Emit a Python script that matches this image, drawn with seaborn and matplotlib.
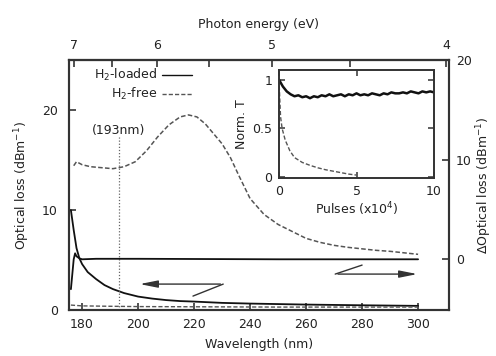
import numpy as np
import pandas as pd
import matplotlib
matplotlib.use("Agg")
import matplotlib.pyplot as plt
import seaborn as sns

# ---------------- data ----------------
# Main panel: optical loss (left axis) of H2-loaded (solid) and H2-free (dashed) fibres
wl_loaded = [176, 177, 178, 179, 180, 182, 185, 188, 191, 195, 200, 205, 210, 215, 220,
             230, 240, 260, 280, 300]
loss_loaded = [10.0, 8.0, 6.2, 5.2, 4.6, 3.8, 3.1, 2.5, 2.1, 1.7, 1.35, 1.15, 1.0, 0.9, 0.85,
               0.72, 0.65, 0.55, 0.48, 0.42]

wl_free_loss = [176, 180, 190, 200, 220, 250, 280, 300]
loss_free = [0.5, 0.42, 0.38, 0.35, 0.33, 0.3, 0.3, 0.3]

# Delta optical loss (right axis)
wl_dloaded = [176, 176.5, 177, 177.5, 178, 179, 180, 185, 200, 250, 300]
dloss_loaded = [-3.0, -1.5, 0.0, 0.6, 0.3, 0.1, 0.0, 0.05, 0.05, 0.0, 0.0]

wl_dfree = [177, 178, 180, 183, 187, 191, 195, 199, 203, 207, 211, 215, 218, 221, 224, 227,
            230, 233, 236, 240, 245, 250, 255, 260, 265, 270, 275, 280, 285, 290, 295, 300]
dloss_free = [9.4, 9.8, 9.5, 9.3, 9.2, 9.1, 9.3, 9.8, 10.9, 12.3, 13.5, 14.3, 14.5, 14.3, 13.6, 12.6,
              11.6, 10.2, 8.4, 6.1, 4.5, 3.5, 2.8, 2.1, 1.7, 1.4, 1.2, 1.05, 0.9, 0.8, 0.65, 0.5]

# Inset: normalised transmission vs pulses (x10^4)
pulses_loaded = [0, 0.25, 0.5, 0.75, 1.0, 1.25, 1.5, 1.75, 2.0, 2.25, 2.5, 2.75, 3.0, 3.25, 3.5,
                 3.75, 4.0, 4.25, 4.5, 4.75, 5.0, 5.25, 5.5, 5.75, 6.0, 6.25, 6.5, 6.75, 7.0,
                 7.25, 7.5, 7.75, 8.0, 8.25, 8.5, 8.75, 9.0, 9.25, 9.5, 9.75, 10.0]
T_loaded = [1.0, 0.93, 0.88, 0.85, 0.83, 0.84, 0.82, 0.83, 0.81, 0.83, 0.82, 0.84, 0.83, 0.85, 0.83,
            0.84, 0.85, 0.83, 0.85, 0.84, 0.86, 0.84, 0.85, 0.84, 0.86, 0.85, 0.84, 0.86, 0.85,
            0.87, 0.86, 0.86, 0.87, 0.86, 0.88, 0.87, 0.86, 0.88, 0.87, 0.88, 0.87]

pulses_free = [0, 0.05, 0.1, 0.2, 0.4, 0.7, 1.0, 1.5, 2.0, 2.5, 3.0, 3.5, 4.0, 4.5, 5.0]
T_free = [1.0, 0.8, 0.62, 0.5, 0.38, 0.27, 0.2, 0.15, 0.12, 0.095, 0.075, 0.06, 0.045, 0.03, 0.02]

legend_labels = ["H$_2$-loaded", "H$_2$-free"]

# ---------------- style ----------------
sns.set_theme(style="ticks")
plt.rcParams["font.family"] = ["DejaVu Sans"]
plt.rcParams["mathtext.fontset"] = "dejavusans"
FS = 9
INK = "#222222"
FRAME = "#333333"
DASH = "#555555"

fig = plt.figure(figsize=(4.96, 3.56), dpi=100)
ax = fig.add_axes([0.139, 0.129, 0.766, 0.702])
ax2 = ax.twinx()

# left-axis curves
sns.lineplot(x=wl_loaded, y=loss_loaded, ax=ax, color="#111111", lw=1.3)
sns.lineplot(x=wl_free_loss, y=loss_free, ax=ax, color=DASH, lw=1.0, linestyle=(0, (3, 1.5)))
# right-axis curves
sns.lineplot(x=wl_dloaded, y=dloss_loaded, ax=ax2, color="#111111", lw=1.3)
sns.lineplot(x=wl_dfree, y=dloss_free, ax=ax2, color=DASH, lw=1.1, linestyle=(0, (3, 1.5)))

ax.set_xlim(175.3, 311)
ax.set_ylim(0, 25)
ax2.set_ylim(-5.1, 20)
ax.set_xticks([180, 200, 220, 240, 260, 280, 300])
ax.set_yticks([0, 10, 20])
ax2.set_yticks([0, 10, 20])

for a in (ax, ax2):
    for s in a.spines.values():
        s.set_color(FRAME)
        s.set_linewidth(1.5)
ax.tick_params(axis="x", direction="in", length=5, width=1.2, color=FRAME,
               labelsize=FS, labelcolor=INK, pad=6, top=False)
ax.tick_params(axis="y", direction="in", length=5, width=1.2, color=FRAME,
               labelsize=FS, labelcolor=INK, pad=8)
ax2.tick_params(axis="y", direction="in", length=5, width=1.2, color=FRAME,
                labelsize=FS, labelcolor=INK, pad=5)

ax.set_xlabel("Wavelength (nm)", fontsize=FS, color=INK, labelpad=5)
ax.set_ylabel("Optical loss (dBm$^{-1}$)", fontsize=FS, color=INK, labelpad=7)
ax2.set_ylabel("$\\Delta$Optical loss (dBm$^{-1}$)", fontsize=FS, color=INK, labelpad=2)


def wl2ev(x):
    x = np.asarray(x, dtype=float)
    with np.errstate(divide="ignore", invalid="ignore"):
        return 1239.84 / x


secax = ax.secondary_xaxis("top", functions=(wl2ev, wl2ev))
secax.set_xticks([7, 6, 5, 4])
secax.set_xticks([6.5, 5.5, 4.5], minor=True)
secax.tick_params(which="both", direction="in", length=5, width=1.2, color=FRAME,
                  labelsize=FS, labelcolor=INK, pad=6)
secax.set_xlabel("Photon energy (eV)", fontsize=FS, color=INK, labelpad=8)
secax.spines["top"].set_color(FRAME)
secax.spines["top"].set_linewidth(1.5)

# 193 nm marker
ax.vlines(193, 0, 17.3, colors="#666666", linestyles=(0, (1, 1.5)), lw=0.9)
ax.text(193, 18.0, "(193nm)", ha="center", va="center", fontsize=FS, color=INK)

# legend (gnuplot style: text right-aligned, sample on the right)
ax.text(0.232, 0.94, legend_labels[0], transform=ax.transAxes, ha="right", va="center",
        fontsize=FS, color=INK)
ax.text(0.232, 0.865, legend_labels[1], transform=ax.transAxes, ha="right", va="center",
        fontsize=FS, color=INK)
ax.plot([0.245, 0.324], [0.94, 0.94], transform=ax.transAxes, color="#111111", lw=1.0)
ax.plot([0.245, 0.324], [0.865, 0.865], transform=ax.transAxes, color=DASH, lw=1.0,
        linestyle=(0, (3, 1.5)))

# arrows indicating axes
ax.plot([219.6, 230.4], [1.4, 2.6], color="#333333", lw=1.0)
ax.annotate("", xy=(199.6, 2.6), xytext=(230.4, 2.6),
            arrowprops=dict(arrowstyle="-|>,head_length=0.9,head_width=0.18", color="#333333", lw=1.0))
ax.plot([270.4, 280.0], [3.6, 4.5], color="#333333", lw=1.0)
ax.annotate("", xy=(300.7, 3.6), xytext=(270.4, 3.6),
            arrowprops=dict(arrowstyle="-|>,head_length=0.9,head_width=0.18", color="#333333", lw=1.0))

# ---------------- inset ----------------
axi = fig.add_axes([0.5625, 0.5, 0.3125, 0.3034])
sns.lineplot(x=pulses_loaded, y=T_loaded, ax=axi, color="#111111", lw=1.8)
sns.lineplot(x=pulses_free, y=T_free, ax=axi, color=DASH, lw=1.0, linestyle=(0, (3, 1.5)))
axi.set_xlim(0, 10)
axi.set_ylim(-0.01, 1.1)
axi.set_xticks([0, 5, 10])
axi.set_xticklabels(["0", "5", "10"])
axi.set_yticks([0, 0.5, 1])
axi.set_yticklabels(["0", "0.5", "1"])
for s in axi.spines.values():
    s.set_color(FRAME)
    s.set_linewidth(1.4)
axi.tick_params(direction="in", length=4, width=1.1, color=FRAME, labelsize=FS,
                labelcolor=INK, top=True, right=True, pad=5)
axi.set_xlabel("Pulses (x10$^4$)", fontsize=FS, color=INK, labelpad=2)
axi.set_ylabel("Norm. T", fontsize=FS, color=INK, labelpad=3)

fig.savefig("out.png", dpi=100)
